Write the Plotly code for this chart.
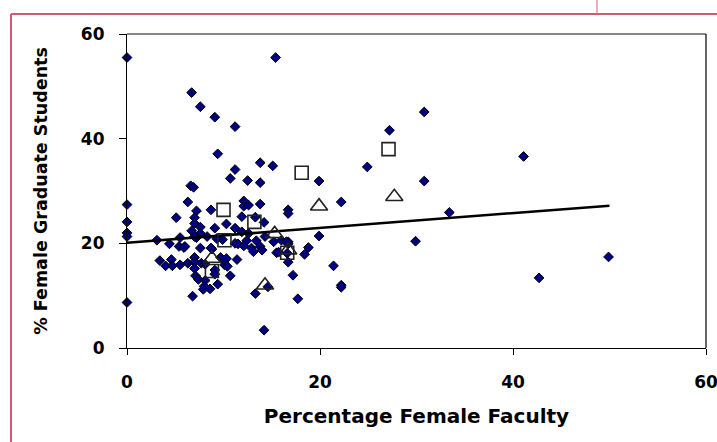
import plotly.graph_objects as go

# Diamonds: all departments
pct_fac = [0, 0, 0, 0, 0, 0, 15.4, 6.7, 7.6, 9.1, 11.2, 9.4, 11.2, 10.7, 12.5, 13.8, 13.8, 15.1, 6.6, 6.9,
           30.8, 27.2, 24.9, 19.9, 30.8, 22.2, 16.7, 16.7, 33.4, 41.1, 19.9, 29.9, 16.7, 16.7, 18.8, 18.4,
           16.7, 21.4, 17.2, 22.2, 22.2, 17.7, 49.9, 42.7, 3.1, 4.4, 3.4, 4.6, 4.0, 4.7, 5.5, 6.3, 5.5, 6.0,
           5.1, 6.3, 7.2, 7.0, 7.0, 6.7, 7.6, 7.6, 7.2, 8.3, 7.6, 8.7, 9.1, 10.3, 8.8, 9.7, 10.1, 10.7, 9.4,
           7.0, 7.0, 7.0, 7.7, 8.1, 7.1, 7.4, 8.1, 8.0, 8.6, 7.9, 6.8, 9.1, 9.1, 10.1, 5.4, 5.9, 8.7,
           12.1, 12.1, 12.6, 13.8, 11.9, 13.3, 14.2, 11.2, 11.9, 12.6, 12.4, 13.4, 11.2, 11.5, 12.1, 12.9,
           13.8, 14.0, 13.1, 14.3, 15.2, 15.5, 16.0, 16.5, 11.4, 13.3, 14.2, 10.3, 10.4, 15.7, 16.6, 14.6,
           7.0, 9.9, 9.3]
pct_grad = [55.5, 27.4, 24.1, 22.0, 21.3, 8.7, 55.5, 48.8, 46.1, 44.1, 42.3, 37.1, 34.1, 32.4, 32.0, 31.6, 35.4, 34.8, 31.0, 30.7,
            45.1, 41.6, 34.6, 31.9, 31.9, 27.9, 26.4, 25.7, 25.9, 36.6, 21.4, 20.4, 20.3, 19.9, 19.2, 17.9,
            16.4, 15.7, 13.9, 12.0, 11.6, 9.4, 17.4, 13.4, 20.6, 19.9, 16.7, 16.9, 15.7, 15.7, 15.9, 16.2, 21.1, 19.4,
            24.9, 27.9, 26.2, 24.9, 23.8, 22.4, 23.1, 21.9, 21.1, 21.3, 19.1, 26.4, 22.9, 23.7, 18.9, 17.3, 15.9, 13.8, 12.2,
            17.3, 16.5, 15.2, 16.2, 16.0, 13.8, 13.1, 12.9, 11.8, 11.3, 11.2, 9.9, 14.9, 14.1, 16.8, 19.4, 19.2, 19.1,
            28.1, 27.1, 27.3, 27.5, 25.1, 25.0, 24.0, 22.9, 22.2, 21.9, 20.5, 20.5, 20.0, 19.9, 19.5, 19.1,
            19.4, 18.7, 18.4, 21.3, 20.3, 18.2, 20.6, 20.3, 16.9, 10.4, 3.4, 17.1, 15.6, 18.3, 18.1, 11.7,
            21.3, 20.7, 20.9]

# Open squares
sq_fac = [18.1, 27.1, 10.0, 13.2, 10.1, 8.8, 16.6]
sq_grad = [33.5, 38.0, 26.4, 24.1, 20.6, 14.7, 18.2]

# Open triangles
tri_fac = [19.9, 27.7, 15.3, 14.3, 16.7, 8.8]
tri_grad = [27.1, 28.9, 21.8, 12.0, 18.7, 17.1]

# Trend line endpoints
trend_fac = [0, 50]
trend_grad = [20.1, 27.2]

x_ticks = [0, 20, 40, 60]
y_ticks = [0, 20, 40, 60]

fig = go.Figure()
fig.add_trace(go.Scatter(x=pct_fac, y=pct_grad, mode="markers",
                         marker=dict(symbol="diamond", size=7.5, color="#000080",
                                     line=dict(color="black", width=1)),
                         showlegend=False, cliponaxis=False))
fig.add_trace(go.Scatter(x=trend_fac, y=trend_grad, mode="lines",
                         line=dict(color="black", width=2.5), showlegend=False))
fig.add_trace(go.Scatter(x=sq_fac, y=sq_grad, mode="markers",
                         marker=dict(symbol="square-open", size=13, color="#222222",
                                     line=dict(color="#222222", width=1.6)),
                         showlegend=False))
fig.add_trace(go.Scatter(x=tri_fac, y=tri_grad, mode="markers",
                         marker=dict(symbol="triangle-up-open", size=15, color="#222222",
                                     line=dict(color="#222222", width=1.6)),
                         showlegend=False))

W, H = 717, 442
L, R, T, B = 127, 706, 34, 348
pw, ph = R - L, B - T

def px(xp):
    return (xp - L) / pw

def py(yp):
    return (B - yp) / ph

pink = "#cf5c74"
shapes = [
    dict(type="line", xref="paper", yref="paper", x0=0, x1=1, y0=1, y1=1,
         line=dict(color="#888888", width=2)),
    dict(type="line", xref="paper", yref="paper", x0=1, x1=1, y0=0, y1=1,
         line=dict(color="black", width=1.2)),
    dict(type="line", xref="paper", yref="paper", x0=px(11), x1=px(W + 5), y0=py(14), y1=py(14),
         line=dict(color=pink, width=2)),
    dict(type="line", xref="paper", yref="paper", x0=px(11), x1=px(11), y0=py(14), y1=py(H + 5),
         line=dict(color=pink, width=2)),
    dict(type="line", xref="paper", yref="paper", x0=px(597), x1=px(597), y0=py(-2), y1=py(14),
         line=dict(color=pink, width=1)),
]

tickfont = dict(family="DejaVu Sans", size=17, color="black", weight="bold")

fig.update_layout(
    width=W, height=H,
    margin=dict(l=L, r=W - R, t=T, b=H - B),
    paper_bgcolor="white", plot_bgcolor="white",
    shapes=shapes,
    xaxis=dict(range=[0, 60], tickvals=x_ticks, ticktext=[str(v) for v in x_ticks],
               automargin=False,
               showgrid=False, zeroline=False, showline=True, linecolor="black", linewidth=1.2,
               ticks="outside", ticklen=6, tickcolor="black", tickwidth=1,
               tickfont=tickfont, ticklabelstandoff=12, ticklabeloverflow="allow",
               title=dict(text="Percentage Female Faculty", standoff=18,
                          font=dict(family="DejaVu Sans", size=20, color="black", weight="bold"))),
    yaxis=dict(range=[0, 60], tickvals=y_ticks, ticktext=[str(v) for v in y_ticks],
               automargin=False,
               showgrid=False, zeroline=False, showline=True, linecolor="black", linewidth=1.2,
               ticks="outside", ticklen=7, tickcolor="black", tickwidth=1,
               tickfont=tickfont, ticklabelstandoff=11, ticklabeloverflow="allow",
               title=dict(text="% Female Graduate Students", standoff=28,
                          font=dict(family="DejaVu Sans", size=17.5, color="black", weight="bold"))),
)

fig.write_html("out.html")
